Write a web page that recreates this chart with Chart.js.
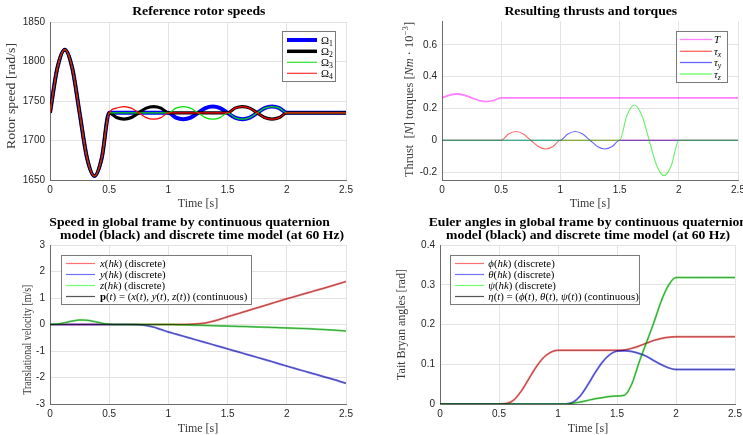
<!DOCTYPE html>
<html>
<head>
<meta charset="utf-8">
<title>Rotor speeds, thrusts and model comparison</title>
<script src="https://cdn.jsdelivr.net/npm/chart.js@4.4.1/dist/chart.umd.min.js"></script>
<style>
  html, body { margin: 0; padding: 0; background: #fff; }
  body { position: relative; width: 743px; height: 435px; overflow: hidden; }
  canvas { position: absolute; }
</style>
</head>
<body>
<canvas id="speeds" width="372" height="218" style="left:0;top:0"></canvas>
<canvas id="thrust" width="371" height="218" style="left:372px;top:0"></canvas>
<canvas id="velocity" width="372" height="217" style="left:0;top:218px"></canvas>
<canvas id="angles" width="371" height="217" style="left:372px;top:218px"></canvas>
<script>
// SECTION: data
const time = [0, 0.0625, 0.125, 0.1875, 0.25, 0.3125, 0.375, 0.4375, 0.5,
  0.5625, 0.625, 0.6875, 0.75, 0.8125, 0.875, 0.9375, 1,
  1.0625, 1.125, 1.1875, 1.25, 1.3125, 1.375, 1.4375, 1.5,
  1.5625, 1.625, 1.6875, 1.75, 1.8125, 1.875, 1.9375, 2,
  2.0625, 2.125, 2.1875, 2.25, 2.3125, 2.375, 2.4375, 2.5];

const timeTicks = ['0', '0.5', '1', '1.5', '2', '2.5'];
const speedTicks = ['1650', '1700', '1750', '1800', '1850'];
const thrustTicks = ['-0.2', '0', '0.2', '0.4', '0.6'];
const velocityTicks = ['-3', '-2', '-1', '0', '1', '2', '3'];
const angleTicks = ['0', '0.1', '0.2', '0.3', '0.4'];

// rotor speeds [rad/s]
const omega1 = [1735, 1792, 1815, 1792, 1735, 1678, 1655, 1678, 1735,
  1735, 1735, 1735, 1735, 1735, 1735, 1735, 1735,
  1729, 1727, 1729, 1735, 1741, 1743, 1741, 1735,
  1729, 1727, 1729, 1735, 1741, 1743, 1741, 1735,
  1735, 1735, 1735, 1735, 1735, 1735, 1735, 1735];
const omega2 = [1735, 1792, 1815, 1792, 1735, 1678, 1655, 1678, 1735,
  1729, 1727, 1729, 1735, 1741, 1743, 1741, 1735,
  1735, 1735, 1735, 1735, 1735, 1735, 1735, 1735,
  1741, 1743, 1741, 1735, 1729, 1727, 1729, 1735,
  1735, 1735, 1735, 1735, 1735, 1735, 1735, 1735];
const omega3 = [1735, 1792, 1815, 1792, 1735, 1678, 1655, 1678, 1735,
  1735, 1735, 1735, 1735, 1735, 1735, 1735, 1735,
  1741, 1743, 1741, 1735, 1729, 1727, 1729, 1735,
  1729, 1727, 1729, 1735, 1741, 1743, 1741, 1735,
  1735, 1735, 1735, 1735, 1735, 1735, 1735, 1735];
const omega4 = [1735, 1792, 1815, 1792, 1735, 1678, 1655, 1678, 1735,
  1741, 1743, 1741, 1735, 1729, 1727, 1729, 1735,
  1735, 1735, 1735, 1735, 1735, 1735, 1735, 1735,
  1741, 1743, 1741, 1735, 1729, 1727, 1729, 1735,
  1735, 1735, 1735, 1735, 1735, 1735, 1735, 1735];

// thrust and torques
const thrustT = [0.267, 0.284, 0.291, 0.284, 0.267, 0.250, 0.243, 0.250, 0.267,
  0.267, 0.267, 0.267, 0.267, 0.267, 0.267, 0.267, 0.267,
  0.267, 0.267, 0.267, 0.267, 0.267, 0.267, 0.267, 0.267,
  0.267, 0.267, 0.267, 0.267, 0.267, 0.267, 0.267, 0.267,
  0.267, 0.267, 0.267, 0.267, 0.267, 0.267, 0.267, 0.267];
const tauX = [0, 0, 0, 0, 0, 0, 0, 0, 0,
  0.039, 0.055, 0.039, 0, -0.039, -0.055, -0.039, 0,
  0, 0, 0, 0, 0, 0, 0, 0,
  0, 0, 0, 0, 0, 0, 0, 0,
  0, 0, 0, 0, 0, 0, 0, 0];
const tauY = [0, 0, 0, 0, 0, 0, 0, 0, 0,
  0, 0, 0, 0, 0, 0, 0, 0,
  0.039, 0.055, 0.039, 0, -0.039, -0.055, -0.039, 0,
  0, 0, 0, 0, 0, 0, 0, 0,
  0, 0, 0, 0, 0, 0, 0, 0];
const tauZ = [0, 0, 0, 0, 0, 0, 0, 0, 0,
  0, 0, 0, 0, 0, 0, 0, 0,
  0, 0, 0, 0, 0, 0, 0, 0,
  0.157, 0.222, 0.157, 0, -0.157, -0.222, -0.157, 0,
  0, 0, 0, 0, 0, 0, 0, 0];

// translational velocity [m/s]
const velX = [0, 0, 0, 0, 0, 0, 0, 0, 0,
  0, 0, 0, 0, 0, 0, 0, 0,
  0, 0.002, 0.008, 0.025, 0.06, 0.12, 0.2, 0.29,
  0.375, 0.46, 0.545, 0.63, 0.715, 0.8, 0.885, 0.97,
  1.05, 1.13, 1.21, 1.29, 1.37, 1.45, 1.535, 1.62];
const velY = [0, 0, 0, 0, 0, 0, 0, 0, 0,
  0, 0, 0, -0.01, -0.04, -0.1, -0.19, -0.28,
  -0.36, -0.44, -0.52, -0.6, -0.68, -0.76, -0.84, -0.92,
  -1.0, -1.08, -1.16, -1.24, -1.32, -1.4, -1.49, -1.57,
  -1.65, -1.73, -1.81, -1.89, -1.97, -2.05, -2.13, -2.22];
const velZ = [0, 0.02, 0.07, 0.13, 0.17, 0.16, 0.11, 0.05, 0.01,
  0, 0, 0, 0, 0, 0, 0, 0,
  -0.005, -0.012, -0.02, -0.028, -0.036, -0.044, -0.052, -0.06,
  -0.068, -0.076, -0.084, -0.092, -0.1, -0.11, -0.12, -0.13,
  -0.14, -0.15, -0.16, -0.175, -0.19, -0.205, -0.225, -0.245];

// Tait Bryan angles [rad]
const phi = [0, 0, 0, 0, 0, 0, 0, 0, 0,
  0.001, 0.01, 0.032, 0.062, 0.092, 0.116, 0.13, 0.135,
  0.135, 0.135, 0.135, 0.135, 0.135, 0.135, 0.135, 0.135,
  0.136, 0.14, 0.146, 0.153, 0.16, 0.165, 0.168, 0.169,
  0.169, 0.169, 0.169, 0.169, 0.169, 0.169, 0.169, 0.169];
const theta = [0, 0, 0, 0, 0, 0, 0, 0, 0,
  0, 0, 0, 0, 0, 0, 0, 0,
  0, 0.004, 0.02, 0.047, 0.078, 0.105, 0.124, 0.133,
  0.134, 0.132, 0.127, 0.12, 0.109, 0.099, 0.091, 0.087,
  0.087, 0.087, 0.087, 0.087, 0.087, 0.087, 0.087, 0.087];
const psi = [0, 0, 0, 0, 0, 0, 0, 0, 0,
  0, 0, 0, 0, 0, 0, 0, 0,
  0, 0.002, 0.005, 0.009, 0.013, 0.016, 0.019, 0.02,
  0.022, 0.05, 0.105, 0.155, 0.205, 0.259, 0.299, 0.318,
  0.318, 0.318, 0.318, 0.318, 0.318, 0.318, 0.318, 0.318];

// SECTION: text drawing (titles, axis labels, legends with math parts)
const SERIF = '"Liberation Serif", "Times New Roman", serif';
const SANS = 'Arial, "Liberation Sans", Helvetica, sans-serif';
const LABEL_COLOR = '#3a3a3a';

const partFont = (style, size) => {
  const small = style.includes('_') || style.includes('^');
  const px = small ? size * 0.72 : size;
  return `${style.includes('i') ? 'italic ' : ''}${style.includes('b') ? 'bold ' : ''}${px}px ${SERIF}`;
};

const drawRich = (ctx, { parts, x, y, size, align = 'left', color = '#000', rotate = false, fit, sx = 1 }) => {
  ctx.save();
  const widths = parts.map(([text, style]) => {
    ctx.font = partFont(style, size);
    return ctx.measureText(text).width;
  });
  const total = widths.reduce((a, b) => a + b, 0);
  const scaleX = fit ? fit / total : sx;
  ctx.translate(x, y);
  if (rotate) ctx.rotate(-Math.PI / 2);
  ctx.scale(scaleX, 1);
  ctx.fillStyle = color;
  ctx.textAlign = 'left';
  ctx.textBaseline = 'alphabetic';
  let cx = align === 'center' ? -total / 2 : 0;
  parts.forEach(([text, style], i) => {
    ctx.font = partFont(style, size);
    const dy = style.includes('_') ? size * 0.22 : style.includes('^') ? -size * 0.38 : 0;
    ctx.fillText(text, cx, dy);
    cx += widths[i];
  });
  ctx.restore();
};

const drawLegend = (ctx, lg) => {
  const [bx, by, bw, bh] = lg.box;
  ctx.save();
  ctx.fillStyle = '#fff';
  ctx.fillRect(bx, by, bw, bh);
  ctx.strokeStyle = '#7a7a7a';
  ctx.lineWidth = 1;
  ctx.strokeRect(bx + 0.5, by + 0.5, bw - 1, bh - 1);
  lg.items.forEach((item, i) => {
    const y = lg.rows[i];
    ctx.beginPath();
    ctx.strokeStyle = item.color;
    ctx.lineWidth = item.width;
    ctx.moveTo(lg.line[0], y);
    ctx.lineTo(lg.line[1], y);
    ctx.stroke();
    drawRich(ctx, { parts: item.parts, x: lg.textX, y: y + 3.6, size: lg.size });
  });
  ctx.restore();
};

const TITLE = 11.5;
const LABEL = 12;
const KEY = 10.8;
const TITLE_SX = 1.19;
const disc = [['(', ''], ['hk', 'i'], [') (discrete)', '']];

const decor = {
  speeds: {
    texts: [
      { parts: [['Reference rotor speeds', 'b']], x: 198.8, y: 14.7, size: TITLE, align: 'center', sx: TITLE_SX },
      { parts: [['Time [s]', '']], x: 198, y: 207.3, size: LABEL, align: 'center', color: LABEL_COLOR },
      { parts: [['Rotor speed [rad/s]', '']], x: 15, y: 96, size: LABEL, align: 'center', rotate: true, color: LABEL_COLOR, fit: 106 }
    ],
    legend: {
      box: [282, 31, 54, 51], line: [287, 317], textX: 321, rows: [40, 51.3, 62.3, 73.3], size: KEY,
      items: [
        { color: '#0000ff', width: 4, parts: [['Ω', ''], ['1', '_']] },
        { color: '#000000', width: 3.5, parts: [['Ω', ''], ['2', '_']] },
        { color: '#30e030', width: 1.2, parts: [['Ω', ''], ['3', '_']] },
        { color: '#ff3030', width: 1.2, parts: [['Ω', ''], ['4', '_']] }
      ]
    }
  },
  thrust: {
    texts: [
      { parts: [['Resulting thrusts and torques', 'b']], x: 218.8, y: 14.7, size: TITLE, align: 'center', sx: TITLE_SX },
      { parts: [['Time [s]', '']], x: 218, y: 207.3, size: LABEL, align: 'center', color: LABEL_COLOR },
      { parts: [['Thrust  [', ''], ['N', 'i'], ['] torques [', ''], ['Nm', 'i'], [' · 10', ''], ['−3', '^'], [']', '']],
        x: 40.5, y: 99.5, size: LABEL, align: 'center', rotate: true, color: LABEL_COLOR, fit: 155 }
    ],
    legend: {
      box: [304, 31, 52, 52], line: [308, 340], textX: 342, rows: [39.5, 51.3, 62.5, 74], size: KEY,
      items: [
        { color: '#ff80ff', width: 1.3, parts: [['T', 'i']] },
        { color: '#ff6666', width: 1.3, parts: [['τ', 'i'], ['x', 'i_']] },
        { color: '#6666ff', width: 1.3, parts: [['τ', 'i'], ['y', 'i_']] },
        { color: '#66ff66', width: 1.3, parts: [['τ', 'i'], ['z', 'i_']] }
      ]
    }
  },
  velocity: {
    texts: [
      { parts: [['Speed in global frame by continuous quaternion', 'b']], x: 49.3, y: 8.3, size: TITLE, sx: TITLE_SX },
      { parts: [['model (black) and discrete time model (at 60 Hz)', 'b']], x: 60, y: 20.7, size: TITLE, sx: TITLE_SX },
      { parts: [['Time [s]', '']], x: 198, y: 213.7, size: LABEL, align: 'center', color: LABEL_COLOR },
      { parts: [['Translational velocity [m/s]', '']], x: 30.5, y: 121.7, size: LABEL, align: 'center', rotate: true, color: LABEL_COLOR, fit: 110 }
    ],
    legend: {
      box: [61, 37, 191, 50], line: [66, 95], textX: 100, rows: [45.5, 56.5, 67.5, 78.5], size: KEY,
      items: [
        { color: '#ff7070', width: 1.2, parts: [['x', 'i'], ...disc] },
        { color: '#7070ff', width: 1.2, parts: [['y', 'i'], ...disc] },
        { color: '#70ff70', width: 1.2, parts: [['z', 'i'], ...disc] },
        { color: '#555555', width: 1.2, parts: [['p', 'b'], ['(', ''], ['t', 'i'], [') = (', ''], ['x', 'i'], ['(', ''], ['t', 'i'], ['), ', ''],
          ['y', 'i'], ['(', ''], ['t', 'i'], ['), ', ''], ['z', 'i'], ['(', ''], ['t', 'i'], [')) (continuous)', '']] }
      ]
    }
  },
  angles: {
    texts: [
      { parts: [['Euler angles in global frame by continuous quaternion', 'b']], x: 56.7, y: 8.3, size: TITLE, sx: TITLE_SX },
      { parts: [['model (black) and discrete time model (at 60 Hz)', 'b']], x: 74, y: 20.7, size: TITLE, sx: TITLE_SX },
      { parts: [['Time [s]', '']], x: 216, y: 213.7, size: LABEL, align: 'center', color: LABEL_COLOR },
      { parts: [['Tait Bryan angles [rad]', '']], x: 32.5, y: 106.5, size: LABEL, align: 'center', rotate: true, color: LABEL_COLOR }
    ],
    legend: {
      box: [78, 37, 190, 50], line: [83, 112], textX: 116.3, rows: [45.5, 56.5, 67.5, 78.5], size: KEY,
      items: [
        { color: '#ff7070', width: 1.2, parts: [['ϕ', 'i'], ...disc] },
        { color: '#7070ff', width: 1.2, parts: [['θ', 'i'], ...disc] },
        { color: '#70ff70', width: 1.2, parts: [['ψ', 'i'], ...disc] },
        { color: '#555555', width: 1.2, parts: [['η', 'i'], ['(', ''], ['t', 'i'], [') = (', ''], ['ϕ', 'i'], ['(', ''], ['t', 'i'], ['), ', ''],
          ['θ', 'i'], ['(', ''], ['t', 'i'], ['), ', ''], ['ψ', 'i'], ['(', ''], ['t', 'i'], [')) (continuous)', '']] }
      ]
    }
  }
};

const decorPlugin = {
  id: 'decor',
  afterDraw(chart) {
    const cfg = decor[chart.canvas.id];
    if (!cfg) return;
    cfg.texts.forEach((t) => drawRich(chart.ctx, t));
    drawLegend(chart.ctx, cfg.legend);
  }
};

// SECTION: charts
const axis = (labels, min, max, padding, fitBox) => ({
  type: 'linear',
  min,
  max,
  afterBuildTicks: (scale) => { scale.ticks = labels.map((t) => ({ value: Number(t) })); },
  afterFit: (scale) => {
    fitBox(scale);
    scale.paddingLeft = 0;
    scale.paddingRight = 0;
    scale.paddingTop = 0;
    scale.paddingBottom = 0;
  },
  ticks: {
    autoSkip: false,
    maxRotation: 0,
    padding,
    color: '#262626',
    font: { family: SANS, size: 10 },
    callback: (value, index) => labels[index]
  },
  grid: { color: '#e3e3e3', drawTicks: false },
  border: { color: '#6b6b6b', width: 1 }
});

const series = (values, color, width, order) => ({
  data: values.map((v, i) => ({ x: time[i], y: v })),
  borderColor: color,
  borderWidth: width,
  order,
  fill: false
});

const build = (id, box, yLabels, yMin, yMax, datasets) => {
  const canvas = document.getElementById(id);
  return new Chart(canvas, {
    type: 'line',
    data: { datasets },
    options: {
      responsive: false,
      animation: false,
      events: [],
      layout: { autoPadding: false, padding: { left: 0, top: box.top, right: canvas.width - box.right, bottom: 0 } },
      elements: { point: { radius: 0 }, line: { cubicInterpolationMode: 'monotone', borderJoinStyle: 'round' } },
      scales: {
        x: axis(timeTicks, 0, 2.5, 4, (s) => { s.height = canvas.height - box.bottom; }),
        y: axis(yLabels, yMin, yMax, 5, (s) => { s.width = box.left; })
      },
      plugins: { legend: { display: false }, tooltip: { enabled: false } }
    },
    plugins: [decorPlugin]
  });
};

build('speeds', { left: 50, right: 346, top: 22, bottom: 180 }, speedTicks, 1650, 1850, [
  series(omega1, '#0000ff', 4, 4),
  series(omega2, '#000000', 3.2, 3),
  series(omega3, '#00e000', 1.2, 2),
  series(omega4, '#ff0000', 1.2, 1)
]);

build('thrust', { left: 70, right: 366, top: 21, bottom: 180 }, thrustTicks, -0.25, 0.75, [
  series(thrustT, 'rgba(255, 0, 255, 0.5)', 1.8, 4),
  series(tauX, 'rgba(255, 0, 0, 0.6)', 1.1, 3),
  series(tauY, 'rgba(0, 0, 255, 0.6)', 1.1, 2),
  series(tauZ, 'rgba(0, 230, 0, 0.6)', 1.1, 1)
]);

build('velocity', { left: 50, right: 346, top: 27, bottom: 186 }, velocityTicks, -3, 3, [
  series(velX, 'rgba(255, 0, 0, 0.55)', 2, 6),
  series(velY, 'rgba(0, 0, 255, 0.55)', 2, 5),
  series(velZ, 'rgba(0, 220, 0, 0.6)', 2, 4),
  series(velX, 'rgba(0, 0, 0, 0.5)', 0.7, 3),
  series(velY, 'rgba(0, 0, 0, 0.5)', 0.7, 2),
  series(velZ, 'rgba(0, 0, 0, 0.5)', 0.7, 1)
]);

build('angles', { left: 68, right: 363, top: 27, bottom: 186 }, angleTicks, 0, 0.4, [
  series(phi, 'rgba(255, 0, 0, 0.55)', 2, 6),
  series(theta, 'rgba(0, 0, 255, 0.55)', 2, 5),
  series(psi, 'rgba(0, 220, 0, 0.6)', 2, 4),
  series(phi, 'rgba(0, 0, 0, 0.5)', 0.7, 3),
  series(theta, 'rgba(0, 0, 0, 0.5)', 0.7, 2),
  series(psi, 'rgba(0, 0, 0, 0.5)', 0.7, 1)
]);
</script>
</body>
</html>
